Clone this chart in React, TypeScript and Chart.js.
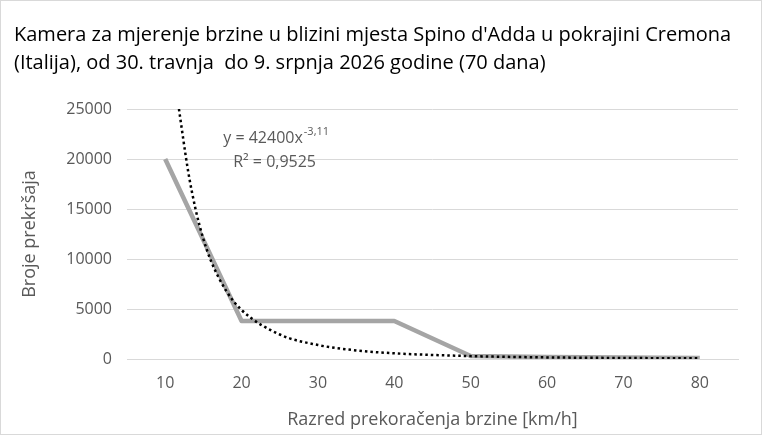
import { useEffect, useRef } from 'react';
import { Chart, registerables } from 'chart.js';

Chart.register(...registerables);

const naslov = [
  "Kamera za mjerenje brzine u blizini mjesta Spino d'Adda u pokrajini Cremona",
  '(Italija), od 30. travnja  do 9. srpnja 2026 godine (70 dana)',
];

// razred prekoračenja brzine [km/h]
const razredi = [10, 20, 30, 40, 50, 60, 70, 80];
// broj prekršaja po razredu
const prekrsaji = [20000, 3800, 3800, 3800, 300, 200, 150, 100];

// točkasta krivulja trenda, očitana sa slike
const trendX = [11.8, 13, 14, 15, 16, 18, 20, 25, 30, 35, 40, 50, 60, 70, 80];
const trendY = [25000, 18800, 14900, 12000, 9800, 6800, 4900, 2450, 1400, 860, 570, 290, 160, 100, 66];

const yTicks = [0, 5000, 10000, 15000, 20000, 25000];

const jednadzba = 'y = 42400x';
const eksponent = '-3,11';
const r2 = 'R² = 0,9525';

const SIVA = '#595959';
const FONT = 'Open Sans';

const trendLabel = {
  id: 'trendLabel',
  afterDatasetsDraw(chart: Chart) {
    const { ctx, scales } = chart;
    const x = scales.x.getPixelForValue(17.6);
    const y1 = scales.y.getPixelForValue(22100);
    const y2 = scales.y.getPixelForValue(19700);
    ctx.save();
    ctx.fillStyle = SIVA;
    ctx.textBaseline = 'middle';
    ctx.textAlign = 'left';
    ctx.font = `16px "${FONT}"`;
    ctx.fillText(jednadzba, x, y1);
    const w = ctx.measureText(jednadzba).width;
    ctx.font = `11px "${FONT}"`;
    ctx.fillText(eksponent, x + w + 1, y1 - 6);
    ctx.font = `16px "${FONT}"`;
    ctx.fillText(r2, x + 10, y2);
    ctx.restore();
  },
};

export default function App() {
  const canvasRef = useRef<HTMLCanvasElement>(null);
  const chartRef = useRef<Chart | null>(null);

  useEffect(() => {
    if (!canvasRef.current) return;
    if (chartRef.current) chartRef.current.destroy();

    chartRef.current = new Chart(canvasRef.current, {
      type: 'line',
      data: {
        datasets: [
          {
            label: 'Trend',
            data: trendX.map((x, i) => ({ x, y: trendY[i] })),
            borderColor: '#000000',
            borderWidth: 2.5,
            borderDash: [2.5, 3],
            pointRadius: 0,
            cubicInterpolationMode: 'monotone',
            order: 0,
          },
          {
            label: 'Prekršaji',
            data: razredi.map((x, i) => ({ x, y: prekrsaji[i] })),
            borderColor: '#a5a5a5',
            borderWidth: 4.5,
            borderJoinStyle: 'round',
            pointRadius: 0,
            tension: 0,
            order: 1,
          },
        ],
      },
      options: {
        animation: false,
        responsive: false,
        maintainAspectRatio: false,
        layout: { padding: { left: 13, right: 23, top: 0, bottom: 0 } },
        plugins: {
          legend: { display: false },
          tooltip: { enabled: false },
          title: {
            display: true,
            text: naslov,
            align: 'start',
            color: '#000000',
            font: { family: FONT, size: 20, weight: 'normal', lineHeight: 28 / 20 },
            padding: { top: 20, bottom: 32 },
          },
        },
        scales: {
          x: {
            type: 'linear',
            min: 5,
            max: 85,
            afterBuildTicks: (scale) => {
              scale.ticks = razredi.map((v) => ({ value: v }));
            },
            afterFit: (scale) => {
              scale.height = 75;
            },
            grid: { display: false, drawTicks: false },
            border: { display: true, color: '#d9d9d9', width: 1 },
            ticks: {
              color: SIVA,
              font: { family: FONT, size: 16 },
              padding: 15,
              maxRotation: 0,
              callback: (v) => String(v),
            },
            title: {
              display: true,
              text: 'Razred prekoračenja brzine [km/h]',
              color: SIVA,
              font: { family: FONT, size: 18 },
              padding: { top: 0, bottom: 3 },
            },
          },
          y: {
            min: 0,
            max: 25000,
            afterBuildTicks: (scale) => {
              scale.ticks = yTicks.map((v) => ({ value: v }));
            },
            afterFit: (scale) => {
              scale.width = 113;
            },
            grid: { color: '#d9d9d9', drawTicks: false },
            border: { display: false },
            ticks: {
              color: SIVA,
              font: { family: FONT, size: 16 },
              padding: 15,
              callback: (v) => String(v),
            },
            title: {
              display: true,
              text: 'Broje prekršaja',
              color: SIVA,
              font: { family: FONT, size: 18 },
              padding: { top: 5, bottom: 0 },
            },
          },
        },
      },
      plugins: [trendLabel],
    });

    return () => {
      chartRef.current?.destroy();
      chartRef.current = null;
    };
  }, []);

  return (
    <div
      style={{
        position: 'absolute',
        left: 0,
        top: 0,
        width: 762,
        height: 435,
        boxSizing: 'border-box',
        border: '1px solid #d9d9d9',
        background: '#ffffff',
      }}
    >
      <canvas ref={canvasRef} width={760} height={433} style={{ width: 760, height: 433, display: 'block' }} />
    </div>
  );
}
